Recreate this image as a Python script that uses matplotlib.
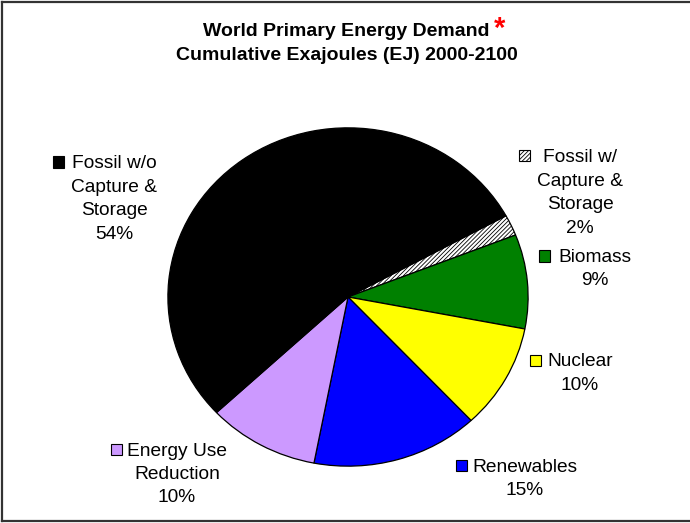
import matplotlib
matplotlib.use("Agg")
import matplotlib.pyplot as plt
from matplotlib.patches import Rectangle
from matplotlib.lines import Line2D

plt.rcParams['font.family'] = ['Liberation Sans', 'DejaVu Sans']
plt.rcParams['hatch.linewidth'] = 0.6

# slices, clockwise from the hatched one
sources = ['Fossil w/ Capture & Storage', 'Biomass', 'Nuclear', 'Renewables',
           'Energy Use Reduction', 'Fossil w/o Capture & Storage']
shares = [2, 9, 10, 15, 10, 54]
colors = ['white', '#008000', '#FFFF00', '#0000FF', '#CC99FF', '#000000']
hatches = ['////////', None, None, None, None, None]

# label lines for each slice (name lines then percent)
label_lines = [
    ['Fossil w/', 'Capture &', 'Storage', '2%'],
    ['Biomass', '9%'],
    ['Nuclear', '10%'],
    ['Renewables', '15%'],
    ['Energy Use', 'Reduction', '10%'],
    ['Fossil w/o', 'Capture &', 'Storage', '54%'],
]
# label centre x, first-line centre y, key box left x (pixels)
label_pos = [
    (580, 156, 519),
    (595, 256, 539),
    (580, 360, 530),
    (525, 465, 456),
    (177, 449, 111),
    (114, 162, 53),
]
line_gap = [23.4, 22.5, 23.0, 23.3, 23.5, 23.4]

W, H = 690, 523
fig = plt.figure(figsize=(W / 100, H / 100), dpi=100)


def fx(x):
    return x / W


def fy(y):
    return 1 - y / H


# pie area
cx, cy, rx, ry = 348, 297, 181, 170
ax = fig.add_axes([fx(cx - rx), fy(cy + ry), 2 * rx / W, 2 * ry / H])
wedges, _ = ax.pie(shares, colors=colors, startangle=28.7, counterclock=False,
                   radius=1, wedgeprops=dict(edgecolor='black', linewidth=0.9))
for w, h in zip(wedges, hatches):
    if h:
        w.set_hatch(h)
ax.set_aspect('auto')
ax.set_xlim(-1.005, 1.005)
ax.set_ylim(-1.005, 1.005)
ax.axis('off')

fs = 13.8
for lines, (lx, ly, kx), gap, col, h in zip(label_lines, label_pos, line_gap, colors, hatches):
    for i, t in enumerate(lines):
        fig.text(fx(lx), fy(ly + i * gap + 6.5), t, ha='center', va='baseline',
                 fontsize=fs, color='black')
    key = Rectangle((fx(kx), fy(ly + 5.5)), 11 / W, 11 / H, transform=fig.transFigure,
                    facecolor=col, edgecolor='black', linewidth=0.8, hatch=h)
    fig.patches.append(key)

# title
fig.text(fx(346.5), fy(35.5), 'World Primary Energy Demand', ha='center', va='baseline',
         fontsize=14, fontweight='bold')
fig.text(fx(500), fy(36.5), '*', ha='center', va='baseline', fontsize=21,
         fontweight='bold', color='#FF0000')
fig.text(fx(347), fy(60), 'Cumulative Exajoules (EJ) 2000-2100', ha='center',
         va='baseline', fontsize=14, fontweight='bold')

# frame on left, top and bottom
for xs, ys in [([2, 2], [2, 521]), ([2, W], [2, 2]), ([2, W], [521, 521])]:
    fig.lines.append(Line2D([fx(x) for x in xs], [fy(y) for y in ys],
                            transform=fig.transFigure, color='#333333', linewidth=1.6))

fig.savefig('out.png', dpi=100)
